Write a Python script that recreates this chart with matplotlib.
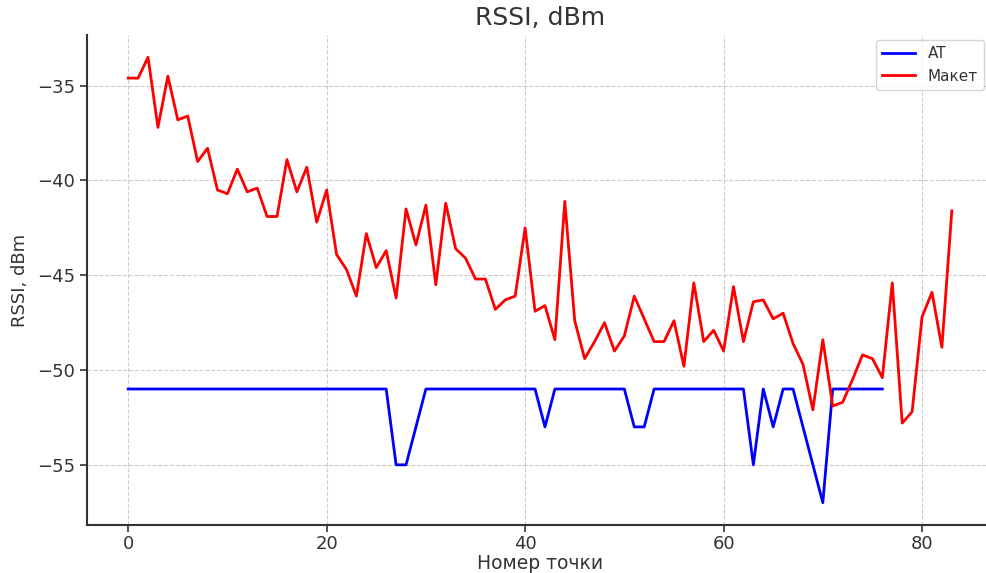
import matplotlib
matplotlib.use("Agg")
import matplotlib.pyplot as plt

at_values = [-51] * 27 + [-55, -55, -53] + [-51] * 12 + [-53] + [-51] * 8 + [-53, -53] + [-51] * 10 + \
            [-55, -51, -53, -51, -51, -53, -55, -57] + [-51] * 6
maket_values = [-34.6, -34.6, -33.5, -37.2, -34.5, -36.8, -36.6, -39.0, -38.3, -40.5,
                -40.7, -39.4, -40.6, -40.4, -41.9, -41.9, -38.9, -40.6, -39.3, -42.2,
                -40.5, -43.9, -44.7, -46.1, -42.8, -44.6, -43.7, -46.2, -41.5, -43.4,
                -41.3, -45.5, -41.2, -43.6, -44.1, -45.2, -45.2, -46.8, -46.3, -46.1,
                -42.5, -46.9, -46.6, -48.4, -41.1, -47.4, -49.4, -48.5, -47.5, -49.0,
                -48.2, -46.1, -47.3, -48.5, -48.5, -47.4, -49.8, -45.4, -48.5, -47.9,
                -49.0, -45.6, -48.5, -46.4, -46.3, -47.3, -47.0, -48.6, -49.7, -52.1,
                -48.4, -51.9, -51.7, -50.5, -49.2, -49.4, -50.4, -45.4, -52.8, -52.2,
                -47.2, -45.9, -48.8, -41.6]
series_labels = ["AT", "Макет"]
title = "RSSI, dBm"
xlabel = "Номер точки"
ylabel = "RSSI, dBm"

txt = "#333333"
fig = plt.figure(figsize=(9.86, 5.73), dpi=100)
ax = fig.add_axes([87 / 986, 48 / 573, 906 / 986, 490 / 573])
ax.plot(range(len(at_values)), at_values, color="blue", lw=2, label=series_labels[0])
ax.plot(range(len(maket_values)), maket_values, color="red", lw=2, label=series_labels[1])
ax.set_title(title, fontsize=18, color=txt, pad=7)
ax.set_xlabel(xlabel, fontsize=13.5, color=txt, labelpad=1)
ax.set_ylabel(ylabel, fontsize=13, color=txt, labelpad=6)
ax.set_xticks([0, 20, 40, 60, 80])
ax.set_yticks([-35, -40, -45, -50, -55])
ax.tick_params(labelsize=13, colors=txt, length=5, width=1.2)
ax.tick_params(axis="x", pad=2)
ax.grid(True, linestyle="--", color="#cccccc", linewidth=0.8)
for s in ["top", "right"]:
    ax.spines[s].set_visible(False)
for s in ["left", "bottom"]:
    ax.spines[s].set_color("#333333")
    ax.spines[s].set_linewidth(1.5)
leg = ax.legend(loc="upper right", bbox_to_anchor=(984 / 986, 1 - 40 / 573),
                bbox_transform=fig.transFigure, borderaxespad=0, fontsize=11,
                labelcolor=txt, handlelength=2.2)
fig.savefig("out.png", dpi=100)
